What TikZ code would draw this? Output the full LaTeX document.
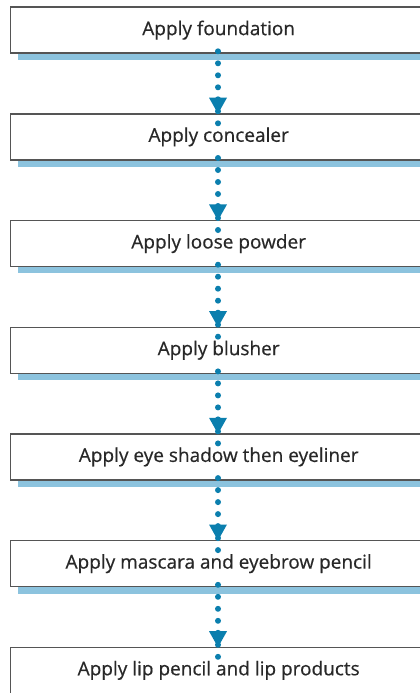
\documentclass[tikz,border=0pt]{standalone}
\usepackage{fontspec}
\setmainfont{Open Sans}[BoldFont=Open Sans,BoldFeatures={FakeBold=0.5}]
\usetikzlibrary{arrows.meta}
\definecolor{shadowblue}{RGB}{140,195,222}
\definecolor{arrowblue}{RGB}{11,127,174}
\definecolor{boxgray}{RGB}{85,85,85}
\definecolor{textgray}{RGB}{40,40,40}
\begin{document}
\begin{tikzpicture}[x=1pt,y=-1pt,
  stepbox/.style={draw=boxgray,line width=1.3pt,fill=white,minimum width=416pt,minimum height=46pt,inner sep=0pt,anchor=north west,font=\fontsize{19}{22}\selectfont\bfseries,text=textgray},
  dotline/.style={arrowblue,line width=6pt,line cap=round,dash pattern=on 0pt off 12pt}
]
\useasboundingbox (0,0) rectangle (420,693);
\def\period{106.7}
\foreach \i/\t in {0/Apply foundation,1/Apply concealer,2/Apply loose powder,3/Apply blusher,4/Apply eye shadow then eyeliner,5/Apply mascara and eyebrow pencil,6/Apply lip pencil and lip products}{
  \pgfmathsetmacro{\ytop}{6.5+\i*\period}
  \ifnum\i<6
    \fill[shadowblue] (18,\ytop+46) rectangle (425,\ytop+53.5);
  \fi
  \node[stepbox] (b\i) at (10,\ytop) {\t};
}
\foreach \i in {0,...,5}{
  \pgfmathtruncatemacro{\j}{\i+1}
  \coordinate (s\i) at (b\i.south -| 218,0);
  \coordinate (t\i) at (b\j.north -| 218,0);
  \draw[dotline] ([yshift=2.5pt]s\i) -- ([yshift=-20pt]t\i);
  \fill[arrowblue] ([yshift=-0.5pt]t\i) -- ++(-9,-16) -- ++(18,0) -- cycle;
}
\end{tikzpicture}
\end{document}
